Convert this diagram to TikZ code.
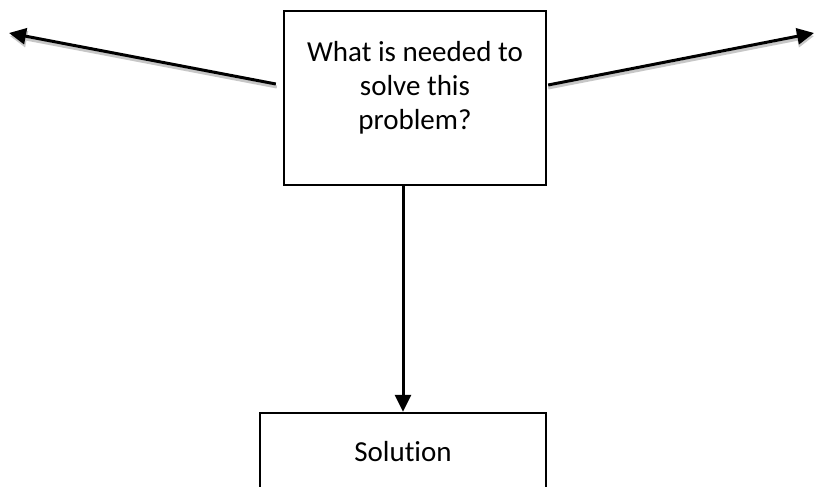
\documentclass[tikz,border=0pt]{standalone}
\usepackage{fontspec}
\setmainfont{Carlito}[Ligatures=NoCommon]
\usetikzlibrary{arrows.meta,calc}
\begin{document}
\begin{tikzpicture}[x=1pt,y=-1pt,
  boxstyle/.style={draw=black, line width=2.3pt, fill=white, inner sep=0pt, align=center,
    font=\fontsize{29}{34}\selectfont},
  arr/.style={line width=3pt, -{Triangle[length=17pt,width=16pt]}},
  shad/.style={line width=3pt, draw=black!22, -{Triangle[length=17pt,width=16pt]}}]
\clip (0,0) rectangle (815,487);
\fill[white] (0,0) rectangle (815,487);
\node[boxstyle, minimum width=262pt, minimum height=174pt] (q) at (415,98)
  {What is needed to\\solve this\\problem?\rule[-26pt]{0pt}{26pt}};
\node[boxstyle, minimum width=286pt, minimum height=78pt] (sol) at (403,452) {Solution};
\coordinate (L) at (9,33);
\coordinate (R) at (814,33);
\coordinate (Ls) at ([shift={(-7,-14)}]q.west);
\coordinate (Rs) at ([shift={(1,-13)}]q.east);
% shadows
\draw[shad] ([shift={(1,3)}]Ls) -- ([shift={(1,3)}]L);
\draw[shad] ([shift={(0,3)}]Rs) -- ([shift={(0,3)}]R);
% arrows
\draw[arr] (Ls) -- (L);
\draw[arr] (Rs) -- (R);
\draw[arr] (q.south -| sol.north) -- (sol.north);
\end{tikzpicture}
\end{document}
